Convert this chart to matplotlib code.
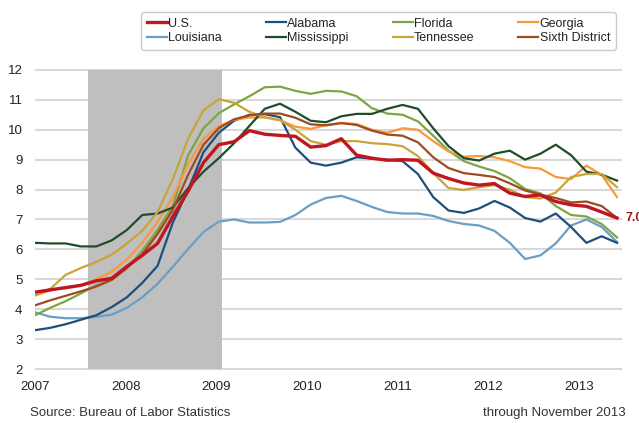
import numpy as np
import matplotlib
matplotlib.use("Agg")
import matplotlib.pyplot as plt

plt.rcParams['font.family'] = ['Liberation Sans', 'DejaVu Sans']

# unemployment rate (%), sampled about every two months, Jan 2007 onward
dates = np.linspace(2007, 2013.417, 39)

us = [4.57, 4.65, 4.72, 4.8, 4.95, 5.03, 5.43, 5.8, 6.2, 7.1,
      7.95, 8.9, 9.5, 9.6, 9.97, 9.85, 9.81, 9.78, 9.42, 9.47,
      9.7, 9.15, 9.05, 8.98, 9.0, 8.98, 8.55, 8.37, 8.22, 8.15,
      8.2, 7.88, 7.77, 7.82, 7.6, 7.49, 7.44, 7.25, 7.05]
alabama = [3.3, 3.38, 3.5, 3.65, 3.8, 4.07, 4.4, 4.88, 5.45, 6.9,
           8.0, 9.25, 9.9, 10.3, 10.5, 10.52, 10.42, 9.4, 8.9, 8.8,
           8.9, 9.08, 9.03, 9.0, 8.95, 8.52, 7.75, 7.3, 7.22, 7.37,
           7.62, 7.4, 7.05, 6.93, 7.2, 6.75, 6.22, 6.44, 6.22]
florida = [3.8, 4.05, 4.27, 4.53, 4.8, 4.98, 5.37, 5.95, 6.65, 7.45,
           9.15, 10.05, 10.55, 10.85, 11.12, 11.42, 11.44, 11.3, 11.2, 11.3,
           11.28, 11.12, 10.72, 10.54, 10.5, 10.28, 9.8, 9.3, 8.95, 8.77,
           8.62, 8.38, 8.02, 7.87, 7.45, 7.15, 7.1, 6.85, 6.4]
georgia = [4.46, 4.63, 4.75, 4.8, 5.0, 5.25, 5.67, 6.22, 6.92, 7.75,
           8.85, 9.7, 10.12, 10.33, 10.41, 10.41, 10.32, 10.1, 10.03, 10.15,
           10.23, 10.19, 10.0, 9.9, 10.05, 10.0, 9.62, 9.27, 9.1, 9.12,
           9.08, 8.95, 8.75, 8.7, 8.42, 8.35, 8.8, 8.49, 7.75]
louisiana = [3.9, 3.75, 3.7, 3.7, 3.75, 3.82, 4.05, 4.4, 4.85, 5.42,
             6.02, 6.58, 6.93, 7.0, 6.9, 6.9, 6.92, 7.15, 7.5, 7.72,
             7.79, 7.62, 7.42, 7.25, 7.2, 7.2, 7.12, 6.95, 6.85, 6.8,
             6.62, 6.22, 5.68, 5.8, 6.2, 6.8, 7.0, 6.75, 6.25]
mississippi = [6.22, 6.2, 6.2, 6.1, 6.1, 6.3, 6.65, 7.15, 7.2, 7.4,
               8.05, 8.6, 9.05, 9.55, 10.13, 10.7, 10.87, 10.6, 10.3, 10.25,
               10.45, 10.53, 10.53, 10.7, 10.83, 10.7, 10.05, 9.45, 9.05, 8.97,
               9.2, 9.3, 9.0, 9.2, 9.5, 9.15, 8.6, 8.5, 8.3]
tennessee = [4.46, 4.68, 5.15, 5.38, 5.58, 5.82, 6.2, 6.62, 7.25, 8.35,
             9.7, 10.65, 11.02, 10.9, 10.6, 10.42, 10.32, 10.0, 9.62, 9.5,
             9.62, 9.62, 9.55, 9.52, 9.45, 9.12, 8.55, 8.05, 7.99, 8.08,
             8.15, 8.0, 7.75, 7.7, 7.9, 8.42, 8.52, 8.52, 8.08]
sixth = [4.13, 4.3, 4.45, 4.6, 4.76, 4.98, 5.38, 5.83, 6.52, 7.32,
         8.5, 9.5, 10.05, 10.35, 10.48, 10.54, 10.54, 10.4, 10.18, 10.15,
         10.22, 10.16, 9.97, 9.84, 9.8, 9.58, 9.08, 8.72, 8.55, 8.49,
         8.42, 8.21, 7.97, 7.83, 7.72, 7.57, 7.6, 7.45, 7.05]

recession = (2007.584, 2009.062)
year_ticks = [2007, 2008, 2009, 2010, 2011, 2012, 2013]
y_ticks = list(range(2, 13))
last_label = "7.0"

series = [
    ("U.S.", us, "#C0161F", 2.4),
    ("Alabama", alabama, "#1D4F7C", 1.6),
    ("Florida", florida, "#7FA542", 1.6),
    ("Georgia", georgia, "#F89A3C", 1.6),
    ("Louisiana", louisiana, "#6B9EC4", 1.6),
    ("Mississippi", mississippi, "#1F4D2C", 1.6),
    ("Tennessee", tennessee, "#C9A43A", 1.6),
    ("Sixth District", sixth, "#9E4B22", 1.6),
]

fig = plt.figure(figsize=(6.39, 4.23), dpi=100)
ax = fig.add_axes([35 / 639, 53 / 423, 587 / 639, 301 / 423])

ax.set_xlim(2007, 2013.472)
ax.set_ylim(1.97, 12.03)
ax.set_yticks(y_ticks)
ax.set_xticks(year_ticks)
ax.yaxis.grid(True, color="#D9D9D9", linewidth=1.5, zorder=0)
ax.set_axisbelow(True)
for s in ax.spines.values():
    s.set_visible(False)
ax.tick_params(length=0, labelsize=9.5, colors="#222222")
ax.tick_params(axis="y", pad=9)
ax.tick_params(axis="x", pad=8)

ax.axvspan(recession[0], recession[1], ymin=0.003, ymax=0.997,
           color="#BFBFBF", zorder=1, linewidth=0)

handles = {}
order = [4, 1, 2, 3, 5, 6, 7, 0]
for idx in order:
    name, vals, col, lw = series[idx]
    ln, = ax.plot(dates, vals, color=col, linewidth=lw, zorder=3,
                  solid_joinstyle="round")
    handles[name] = ln

# end label runs off the right edge, as in the original
ax.text(2013.516, us[-1], last_label, color="#A0151C", fontsize=9,
        fontweight="bold", va="center", ha="left", clip_on=False)

leg_names = ["U.S.", "Louisiana", "Alabama", "Mississippi",
             "Florida", "Tennessee", "Georgia", "Sixth District"]
leg = fig.legend([handles[n] for n in leg_names], leg_names, ncol=4,
                 loc="upper left", mode="expand",
                 bbox_to_anchor=(135 / 639, 1 - 6 / 423, 487 / 639, 0.0),
                 fontsize=9, handlelength=1.6, handletextpad=0.1,
                 borderpad=0.45, labelspacing=0.2, columnspacing=1.0,
                 frameon=True, fancybox=True, edgecolor="#BFBFBF")
leg.get_frame().set_linewidth(1.0)
for t in leg.get_texts():
    t.set_color("#222222")

fig.text(30 / 639, 1 - 413 / 423, "Source: Bureau of Labor Statistics",
         fontsize=9.5, color="#333333", va="center", ha="left")
fig.text(626 / 639, 1 - 413 / 423, "through November 2013",
         fontsize=9.5, color="#333333", va="center", ha="right")

fig.savefig("out.png", dpi=100)
